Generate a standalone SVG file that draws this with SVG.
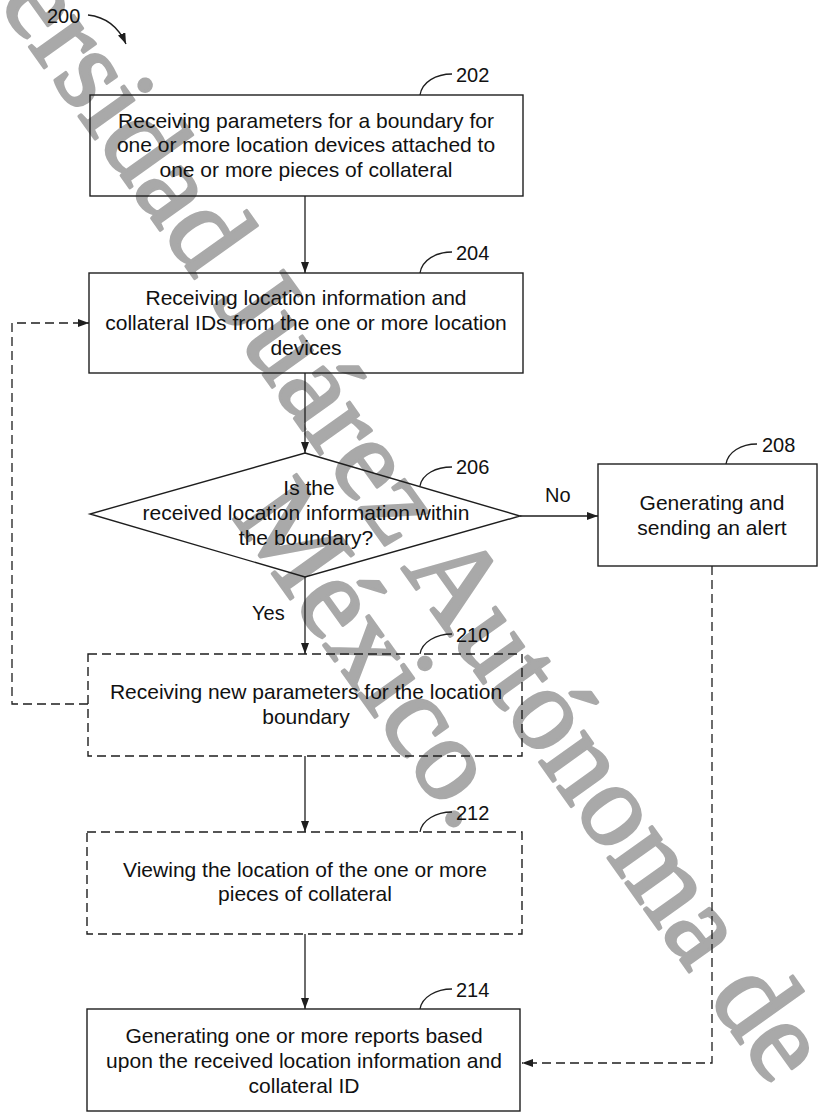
<svg xmlns="http://www.w3.org/2000/svg" width="818" height="1113" viewBox="0 0 818 1113">
  <style>
    .box { fill: none; stroke: #1e1e1e; stroke-width: 1.4; }
    .dash { stroke-dasharray: 9 5; }
    .line { fill: none; stroke: #1e1e1e; stroke-width: 1.3; }
    .t { font-family: "Liberation Sans", Arial, sans-serif; font-size: 21px; fill: #111; text-anchor: middle; }
    .lbl { font-family: "Liberation Sans", Arial, sans-serif; font-size: 20px; fill: #111; }
    .wm { font-family: "Liberation Serif", "Times New Roman", serif; font-size: 118px; fill: #a9a9a9; stroke: #a9a9a9; stroke-width: 3; stroke-linejoin: round; }
  </style>
  <defs>
    <marker id="arrow" markerUnits="userSpaceOnUse" markerWidth="11" markerHeight="8" refX="11" refY="4" orient="auto">
      <path d="M0,0 L11,4 L0,8 z" fill="#1e1e1e"/>
    </marker>
  </defs>

  <rect width="818" height="1113" fill="#fff"/>

  <!-- diagonal watermark -->
  <g id="watermark">
    <text class="wm" text-anchor="end" transform="translate(772,1088) rotate(54.5)">Universidad Juárez Autónoma de</text>
    <text class="wm" text-anchor="end" transform="translate(458,834) rotate(54.5)">México.</text>
  </g>

  <!-- figure reference -->
  <g id="fig-200">
    <text class="lbl" x="47" y="23">200</text>
    <path class="line" d="M88,15 C106,17 119,28 126,44" marker-end="url(#arrow)"/>
  </g>

  <g id="connectors">
    <line class="line" x1="305" y1="196" x2="305" y2="273" marker-end="url(#arrow)"/>
    <line class="line" x1="305" y1="373" x2="305" y2="453" marker-end="url(#arrow)"/>
    <line class="line" x1="520" y1="516" x2="598" y2="516" marker-end="url(#arrow)"/>
    <line class="line" x1="305" y1="577" x2="305" y2="654" marker-end="url(#arrow)"/>
    <line class="line" x1="305" y1="756" x2="305" y2="832" marker-end="url(#arrow)"/>
    <line class="line" x1="305" y1="934" x2="305" y2="1009" marker-end="url(#arrow)"/>
    <path class="line dash" d="M88,704 H12 V323 H89" marker-end="url(#arrow)"/>
    <path class="line dash" d="M712,566 V1063 H522" marker-end="url(#arrow)"/>
    <text class="lbl" x="545" y="502">No</text>
    <text class="lbl" x="252" y="620">Yes</text>
  </g>

  <g id="node-202">
    <rect class="box" x="90" y="95" width="433" height="101"/>
    <text class="t" x="306" y="128">Receiving parameters for a boundary for</text>
    <text class="t" x="306" y="152">one or more location devices attached to</text>
    <text class="t" x="306" y="177">one or more pieces of collateral</text>
    <path class="line" d="M420,95 C422,82 436,74 452,74"/>
    <text class="lbl" x="456" y="82">202</text>
  </g>

  <g id="node-204">
    <rect class="box" x="89" y="273" width="434" height="100"/>
    <text class="t" x="306" y="305">Receiving location information and</text>
    <text class="t" x="306" y="330">collateral IDs from the one or more location</text>
    <text class="t" x="306" y="355">devices</text>
    <path class="line" d="M420,273 C422,260 436,252 452,252"/>
    <text class="lbl" x="456" y="260">204</text>
  </g>

  <g id="node-206">
    <polygon class="box" points="305,453 520,516 305,577 90,514"/>
    <text class="t" x="309" y="495">Is the</text>
    <text class="t" x="306" y="520">received location information within</text>
    <text class="t" x="306" y="545">the boundary?</text>
    <path class="line" d="M420,486 C422,474 436,467 452,467"/>
    <text class="lbl" x="456" y="474">206</text>
  </g>

  <g id="node-208">
    <rect class="box" x="598" y="464" width="219" height="102"/>
    <text class="t" x="712" y="510">Generating and</text>
    <text class="t" x="712" y="535">sending an alert</text>
    <path class="line" d="M726,464 C728,452 741,444 757,444"/>
    <text class="lbl" x="762" y="452">208</text>
  </g>

  <g id="node-210">
    <rect class="box dash" x="88" y="654" width="434" height="102"/>
    <text class="t" x="306" y="699">Receiving new parameters for the location</text>
    <text class="t" x="306" y="724">boundary</text>
    <path class="line" d="M420,654 C422,642 436,634 452,634"/>
    <text class="lbl" x="456" y="642">210</text>
  </g>

  <g id="node-212">
    <rect class="box dash" x="87" y="832" width="435" height="102"/>
    <text class="t" x="305" y="877">Viewing the location of the one or more</text>
    <text class="t" x="305" y="901">pieces of collateral</text>
    <path class="line" d="M420,832 C422,820 436,812 452,812"/>
    <text class="lbl" x="456" y="820">212</text>
  </g>

  <g id="node-214">
    <rect class="box" x="87" y="1009" width="433" height="102"/>
    <text class="t" x="304" y="1043">Generating one or more reports based</text>
    <text class="t" x="304" y="1068">upon the received location information and</text>
    <text class="t" x="304" y="1093">collateral ID</text>
    <path class="line" d="M420,1009 C422,997 436,989 452,989"/>
    <text class="lbl" x="456" y="997">214</text>
  </g>
</svg>
